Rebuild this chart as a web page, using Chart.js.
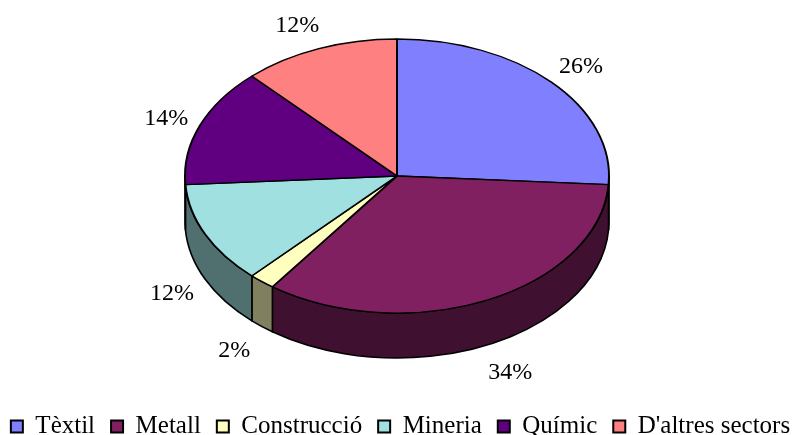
<!DOCTYPE html>
<html lang="ca">
<head>
    <meta charset="UTF-8">
    <script src="https://cdn.jsdelivr.net/npm/chart.js"></script>
    <title>Sectors</title>
    <style>
        body { margin: 0; background: #ffffff; }
        .chart-container { position: relative; width: 801px; height: 435px; }
    </style>
</head>
<body>
    <div class="chart-container">
        <canvas id="myChart"></canvas>
    </div>

    <script>
        const sectors = ['Tèxtil', 'Metall', 'Construcció', 'Mineria', 'Químic', "D'altres sectors"];
        const percents = [26, 34, 2, 12, 14, 12];
        const topColors = ['#8080FF', '#802060', '#FFFFC0', '#A0E0E0', '#600080', '#FF8080'];
        const sideColors = ['#404080', '#401030', '#808060', '#507070', '#300040', '#804040'];

        // ellipse of the top face, and the depth of the rim
        const CX = 397, CY = 176, RX = 212, RY = 137, DEPTH = 45;

        const pie3d = {
            id: 'pie3d',
            beforeDatasetsDraw(chart) {
                const ctx = chart.ctx;
                const arcs = chart.getDatasetMeta(0).data;
                const a0 = arcs[0];

                // rim: only the front half (0..PI) is visible
                arcs.forEach((arc, i) => {
                    const s = Math.max(arc.startAngle, 0);
                    const e = Math.min(arc.endAngle, Math.PI);
                    if (e <= s) return;
                    ctx.save();
                    ctx.beginPath();
                    ctx.ellipse(CX, CY, RX, RY, 0, s, e);
                    ctx.ellipse(CX, CY + DEPTH, RX, RY, 0, e, s, true);
                    ctx.closePath();
                    ctx.fillStyle = sideColors[i];
                    ctx.fill();
                    ctx.lineWidth = 1.6;
                    ctx.strokeStyle = '#000000';
                    ctx.lineJoin = 'round';
                    ctx.stroke();
                    ctx.restore();
                });

                // squash the library's circle into the ellipse
                ctx.save();
                ctx.translate(CX, CY);
                ctx.scale(RX / a0.outerRadius, RY / a0.outerRadius);
                ctx.translate(-a0.x, -a0.y);
            },
            afterDatasetsDraw(chart) {
                const ctx = chart.ctx;
                ctx.restore();

                const arcs = chart.getDatasetMeta(0).data;
                ctx.save();
                ctx.font = '24px "Liberation Serif"';
                ctx.fillStyle = '#000000';
                ctx.textAlign = 'center';
                ctx.textBaseline = 'middle';
                arcs.forEach((arc, i) => {
                    const mid = (arc.startAngle + arc.endAngle) / 2;
                    const c = Math.cos(mid), s = Math.sin(mid);
                    let x = CX + RX * 1.1 * c + Math.sign(c) * 14;
                    let y = CY + RY * 1.2 * s + 3;
                    if (s > 0) y += DEPTH;
                    ctx.fillText(percents[i] + '%', x, y);
                });
                ctx.restore();
            }
        };

        const data = {
            labels: sectors,
            datasets: [{
                data: percents,
                backgroundColor: topColors,
                borderColor: '#000000',
                borderWidth: 1.8,
                hoverOffset: 0
            }]
        };

        const options = {
            responsive: true,
            maintainAspectRatio: false,
            animation: false,
            events: [],
            layout: {
                padding: { top: 10, bottom: -14, left: -15, right: -15 }
            },
            plugins: {
                tooltip: { enabled: false },
                legend: {
                    display: true,
                    position: 'bottom',
                    labels: {
                        color: '#000000',
                        font: { family: 'Liberation Serif', size: 25 },
                        boxWidth: 12,
                        boxHeight: 12,
                        padding: 16,
                        generateLabels: function(chart) {
                            return sectors.map((s, i) => ({
                                text: s,
                                fillStyle: topColors[i],
                                strokeStyle: '#000000',
                                lineWidth: 2,
                                index: i
                            }));
                        }
                    }
                }
            }
        };

        const myChart = new Chart(document.getElementById('myChart'), {
            type: 'pie',
            data: data,
            options: options,
            plugins: [pie3d]
        });
    </script>
</body>
</html>
